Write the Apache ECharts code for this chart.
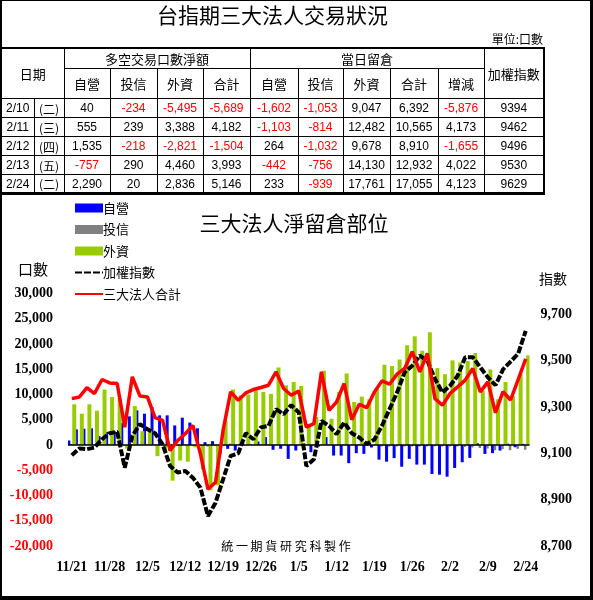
<!DOCTYPE html>
<html>
<head>
<meta charset="utf-8">
<script src="https://cdn.jsdelivr.net/npm/echarts@6/dist/echarts.min.js"></script>
<style>
  html, body { margin:0; padding:0; background:#fff; }
  #wrap { position:relative; width:593px; height:600px; overflow:hidden; background:#fff; }
  #chart { position:absolute; left:0; top:0; width:593px; height:600px; }
  #frame { position:absolute; left:0; top:0; width:593px; height:600px; box-sizing:border-box;
           border-left:2px solid #000; border-right:3px solid #000; border-bottom:4px solid #000; border-top:1px solid #000;
           pointer-events:none; }
  #ttl { position:absolute; left:0; width:545px; top:-1px; text-align:center;
         font:21px "Noto Sans CJK TC", sans-serif; color:#000; }
  #unit { position:absolute; right:50px; top:30px; font:12px "Noto Sans CJK TC", sans-serif; color:#000; }
  #tbl { position:absolute; left:0; top:47px; width:545px; border-collapse:collapse; table-layout:fixed;
         border-left:2px solid #000; border-bottom:3px solid #000; border-right:2px solid #000; border-top:2px solid #000; }
  #tbl td { border:1px solid #000; padding:0; text-align:center; vertical-align:middle;
            font:12px "Liberation Sans", "Noto Sans CJK TC", sans-serif; color:#000; white-space:nowrap; overflow:hidden; }
  #tbl td.h { font:13px "Noto Sans CJK TC", sans-serif; }
  #tbl td.neg { color:#ff0000; }
</style>
</head>
<body>
<div id="wrap">
  <div id="chart"></div>
  <div id="ttl">台指期三大法人交易狀況</div>
  <div id="unit">單位:口數</div>
  <table id="tbl"></table>
  <div id="frame"></div>
</div>
<script>
// ---------- table data ----------
const tDates = ['2/10','2/11','2/12','2/13','2/24'];
const tWeek = ['(二)','(三)','(四)','(五)','(二)'];
const tTradeProp = [40, 555, 1535, -757, 2290];
const tTradeInv = [-234, 239, -218, 290, 20];
const tTradeFor = [-5495, 3388, -2821, 4460, 2836];
const tTradeSum = [-5689, 4182, -1504, 3993, 5146];
const tOIProp = [-1602, -1103, 264, -442, 233];
const tOIInv = [-1053, -814, -1032, -756, -939];
const tOIFor = [9047, 12482, 9678, 14130, 17761];
const tOISum = [6392, 10565, 8910, 12932, 17055];
const tOIChg = [-5876, 4173, -1655, 4022, 4123];
const tIndex = [9394, 9462, 9496, 9530, 9629];
const subHeads = ['自營','投信','外資','合計','自營','投信','外資','合計','增減'];

// ---------- chart data ----------
const dates = ['11/21','11/24','11/25','11/26','11/27','11/28','12/1','12/2','12/3','12/4','12/5',
  '12/8','12/9','12/10','12/11','12/12','12/15','12/16','12/17','12/18','12/19',
  '12/22','12/23','12/24','12/25','12/26','12/27','12/29','12/30','12/31','1/5',
  '1/6','1/7','1/8','1/9','1/12','1/13','1/14','1/15','1/16','1/19',
  '1/20','1/21','1/22','1/23','1/26','1/27','1/28','1/29','1/30','2/2',
  '2/3','2/4','2/5','2/6','2/9','2/10','2/11','2/12','2/13','2/24'];
const prop = [900,3100,3220,3300,1750,2600,2750,4340,5670,6870,6200,
  7520,5870,5870,3880,5410,4440,3300,560,760,-1750,
  -760,-1100,300,100,700,1560,-960,-750,-2750,-1090,
  -600,-1430,-300,1560,-2090,-2090,-3600,-1620,-1760,-500,
  -2900,-3300,-2600,-4300,-2750,-3880,-3880,-5740,-5870,-6270,
  -4540,-3410,-2550,360,-1760,-1602,-1103,264,-442,233];
const trust = [230,210,100,90,240,200,100,-100,100,100,100,
  100,100,100,100,120,-100,-200,-300,-200,-100,
  270,100,10,40,170,140,100,100,100,100,
  100,100,90,110,100,100,100,100,100,-100,
  -300,-300,-300,-300,-300,-300,-300,-300,-300,-300,
  -300,-400,-500,-600,-700,-1053,-814,-1032,-756,-939];
const foreign = [8060,6200,8060,6800,10980,9500,9330,-700,7720,2740,3210,
  -2210,-1090,-7060,-3080,-3300,-460,-4850,-8980,-7960,4740,
  11000,9860,10000,10840,10510,10140,15350,11830,12500,11690,
  4040,5550,14700,5200,10510,14170,8510,9580,9060,11110,
  15900,15640,16930,19760,21520,18670,22330,15230,14030,16760,
  16340,16650,18210,10750,14960,9047,12482,9678,14130,17761];
const total = [9190,9510,11380,10190,12970,12300,12180,3540,13490,9710,9510,
  5410,4880,-1090,900,2230,3880,-1750,-8720,-7400,2890,
  10510,8860,10310,10980,11380,11840,14490,11180,9850,10700,
  3540,4220,14490,6870,8520,12180,5010,8060,7400,10510,
  12700,12040,14030,15160,18470,14490,18150,9190,7860,10190,
  11500,12840,15160,10510,12500,6392,10565,8910,12932,17055];
const taiex = [9092,9121,9118,9125,9161,9187,9193,9038,9175,9226,9204,
  9187,9139,9045,9017,9024,8995,8952,8829,8887,8988,
  9089,9100,9187,9161,9212,9219,9291,9269,9308,9277,
  9045,9074,9240,9219,9183,9233,9187,9168,9140,9160,
  9219,9291,9363,9450,9478,9522,9500,9421,9363,9392,
  9435,9515,9515,9471,9428,9394,9462,9496,9530,9629];

// ---------- build table ----------
(function(){
  const fmt = v => v.toLocaleString('en-US');
  const colW = [33,30,46,47,46,47,48,45,47,48,46,60];
  let h = '<colgroup>' + colW.map(w => '<col style="width:' + w + 'px">').join('') + '</colgroup>';
  h += '<tr style="height:19px"><td class="h" rowspan="2" colspan="2">日期</td><td class="h" colspan="4">多空交易口數淨額</td><td class="h" colspan="5">當日留倉</td><td class="h" rowspan="2">加權指數</td></tr>';
  h += '<tr style="height:30px">' + subHeads.map(s => '<td class="h">' + s + '</td>').join('') + '</tr>';
  for (let r = 0; r < tDates.length; r++) {
    const vals = [tTradeProp[r], tTradeInv[r], tTradeFor[r], tTradeSum[r], tOIProp[r], tOIInv[r], tOIFor[r], tOISum[r], tOIChg[r]];
    h += '<tr style="height:19px"><td>' + tDates[r] + '</td><td class="h" style="font-size:12px">' + tWeek[r] + '</td>';
    h += vals.map(v => '<td' + (v < 0 ? ' class="neg"' : '') + '>' + fmt(v) + '</td>').join('');
    h += '<td>' + tIndex[r] + '</td></tr>';
  }
  document.getElementById('tbl').innerHTML = h;
})();

// ---------- chart ----------
const chart = echarts.init(document.getElementById('chart'), null, {renderer:'canvas'});
const option = {
  animation: false,
  backgroundColor: 'transparent',
  grid: { left: 68, top: 293.5, width: 461.5, height: 252.5, containLabel: false },
  legend: {
    orient: 'vertical', left: 69, top: 196,
    itemWidth: 28, itemHeight: 9, itemGap: 7.5,
    textStyle: { fontFamily: '"Noto Sans CJK TC", sans-serif', fontSize: 13, color: '#000', lineHeight: 14, padding: [0,0,0,-5] },
    data: [
      { name: '自營', icon: 'rect' },
      { name: '投信', icon: 'rect' },
      { name: '外資', icon: 'rect' },
      { name: '加權指數', itemStyle: { opacity: 0 } },
      { name: '三大法人合計', itemStyle: { opacity: 0 } }
    ]
  },
  xAxis: {
    type: 'category', data: dates,
    axisLine: { show: false }, axisTick: { show: false },
    axisLabel: { interval: 4, margin: 14, color: '#000', fontFamily: '"Liberation Serif", serif', fontWeight: 'bold', fontSize: 14 },
    splitLine: { show: false }
  },
  yAxis: [
    {
      type: 'value', min: -20000, max: 30000, interval: 5000,
      axisLine: { show: false }, axisTick: { show: false }, splitLine: { show: false },
      axisLabel: {
        margin: 15, fontFamily: '"Liberation Serif", serif', fontWeight: 'bold', fontSize: 14,
        formatter: v => Number(v).toLocaleString('en-US'),
        color: v => (Number(v) < 0 ? '#ff0000' : '#000')
      }
    },
    {
      type: 'value', position: 'right', min: 8700, max: 9790, interval: 200,
      axisLine: { show: false }, axisTick: { show: false }, splitLine: { show: false },
      axisLabel: {
        margin: 11, showMaxLabel: false, color: '#000',
        fontFamily: '"Liberation Serif", serif', fontWeight: 'bold', fontSize: 14,
        formatter: v => Number(v).toLocaleString('en-US')
      }
    }
  ],
  series: [
    { name: '自營', type: 'bar', data: prop, barWidth: 3, barGap: '-10%', itemStyle: { color: '#0000ff' },
      markLine: { silent: true, symbol: 'none', label: { show: false }, lineStyle: { color: '#000', width: 1.5, type: 'solid' }, data: [{ yAxis: 0 }], z: 5 } },
    { name: '投信', type: 'bar', data: trust, barWidth: 2.5, barGap: '-10%', itemStyle: { color: '#808080' } },
    { name: '外資', type: 'bar', data: foreign, barWidth: 4, barGap: '-10%', itemStyle: { color: '#99cc00' } },
    { name: '加權指數', type: 'line', yAxisIndex: 1, data: taiex, symbol: 'none', z: 6,
      lineStyle: { color: '#000', width: 4, type: [7, 2] }, itemStyle: { color: '#000' } },
    { name: '三大法人合計', type: 'line', data: total, symbol: 'none', z: 7,
      lineStyle: { color: '#ff0000', width: 3.5 }, itemStyle: { color: '#ff0000' } }
  ],
  graphic: [
    { type: 'text', x: 294, y: 223, style: { text: '三大法人淨留倉部位', font: '21px "Noto Sans CJK TC", sans-serif', fill: '#000', textAlign: 'center', textVerticalAlign: 'middle' } },
    { type: 'text', x: 33, y: 269, style: { text: '口數', font: '15px "Noto Sans CJK TC", sans-serif', fill: '#000', textAlign: 'center', textVerticalAlign: 'middle' } },
    { type: 'text', x: 553, y: 279, style: { text: '指數', font: '14px "Noto Sans CJK TC", sans-serif', fill: '#000', textAlign: 'center', textVerticalAlign: 'middle' } },
    { type: 'text', x: 286, y: 546, style: { text: '統 一 期 貨 研 究 科 製 作', font: '12px "Noto Sans CJK TC", sans-serif', fill: '#000', textAlign: 'center', textVerticalAlign: 'middle' } }
  ]
};
chart.setOption(option);
</script>
</body>
</html>
